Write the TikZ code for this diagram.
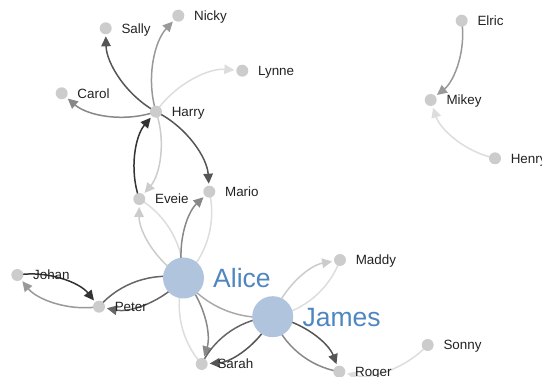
\documentclass[tikz,border=0pt]{standalone}
\usepackage{fontspec}
\setmainfont{Liberation Sans}
\usetikzlibrary{arrows.meta,backgrounds}
\definecolor{nodegray}{HTML}{CCCCCC}
\definecolor{bigblue}{HTML}{B0C4DE}
\definecolor{bluelbl}{HTML}{4F86C0}
\definecolor{labelc}{HTML}{222222}
\definecolor{ea}{HTML}{DDDDDD}
\definecolor{eb}{HTML}{CCCCCC}
\definecolor{ec}{HTML}{AAAAAA}
\definecolor{ed}{HTML}{999999}
\definecolor{ee}{HTML}{888888}
\definecolor{ef}{HTML}{666666}
\definecolor{eg}{HTML}{555555}
\definecolor{eh}{HTML}{333333}
\begin{document}
\begin{tikzpicture}[x=1pt,y=-1pt,
  small/.style={circle,fill=nodegray,minimum size=12pt,inner sep=0pt},
  big/.style={circle,fill=bigblue,minimum size=41pt,inner sep=0pt},
  lbl/.style={anchor=base west,inner sep=0pt,font=\fontsize{13.4}{15}\selectfont,text=labelc},
  biglbl/.style={anchor=base west,inner sep=0pt,font=\fontsize{26.5}{30}\selectfont,text=bluelbl},
  link/.style={line width=1.5pt,bend left=30,looseness=0.91,shorten >=8pt,-{Triangle[length=10pt,width=9.5pt]}},
  tobig/.style={line width=1.5pt,bend left=30,looseness=0.91},
]
\useasboundingbox (0,0) rectangle (542,377);
% nodes
\foreach \n/\x/\y/\t in {harry/156/111.7/Harry, sally/105.7/28.3/Sally, nicky/178.3/15.7/Nicky,
  lynne/242.3/70.7/Lynne, carol/61.7/93.3/Carol, eveie/139.3/199/Eveie, mario/209.3/191.7/Mario,
  johan/17.3/275/Johan, peter/99/306.7/Peter, sarah/201.7/364/Sarah, maddy/340/260/Maddy,
  roger/339.3/371.7/Roger, sonny/427.7/345/Sonny, elric/461.7/20.7/Elric, mikey/430.7/100/Mikey,
  henry/495/158.3/Henry}{
  \node[small] (\n) at (\x,\y) {};
  \node[lbl] (l\n) at ([xshift=15.6pt,yshift=-4.8pt]\n.center) {\t};
}
\node[big] (alice) at (183.5,278) {};
\node[biglbl] (lalice) at ([xshift=29.5pt,yshift=-10pt]alice.center) {Alice};
\node[big] (james) at (272.7,316.7) {};
\node[biglbl] (ljames) at ([xshift=29.7pt,yshift=-10pt]james.center) {James};
% links
\begin{scope}[on background layer]
\draw[link,eg] (harry.center) to (sally.center);
\draw[link,ed] (harry.center) to (nicky.center);
\draw[link,ea] (harry.center) to (lynne.center);
\draw[link,ee] (harry.center) to (carol.center);
\draw[link,eg] (harry.center) to (mario.center);
\draw[link,eb] (harry.center) to (eveie.center);
\draw[link,eh] (eveie.center) to (harry.center);
\draw[link,eb] (alice.center) to (eveie.center);
\draw[tobig,ea] (eveie.center) to (alice.center);
\draw[link,ee] (alice.center) to (mario.center);
\draw[tobig,ea] (mario.center) to (alice.center);
\draw[tobig,ef] (peter.center) to (alice.center);
\draw[link,ef] (alice.center) to (peter.center);
\draw[link,eh] (johan.center) to (peter.center);
\draw[link,ed] (peter.center) to (johan.center);
\draw[link,ee] (alice.center) to (sarah.center);
\draw[tobig,ea] (sarah.center) to (alice.center);
\draw[tobig,ec] (james.center) to (alice.center);
\draw[link,eg] (james.center) to (sarah.center);
\draw[tobig,ef] (sarah.center) to (james.center);
\draw[link,eb] (james.center) to (maddy.center);
\draw[tobig,ea] (maddy.center) to (james.center);
\draw[link,eg] (james.center) to (roger.center);
\draw[tobig,ee] (roger.center) to (james.center);
\draw[link,ea] (sonny.center) to (roger.center);
\draw[link,ed] (elric.center) to (mikey.center);
\draw[link,ea] (henry.center) to (mikey.center);
\end{scope}
\end{tikzpicture}
\end{document}
